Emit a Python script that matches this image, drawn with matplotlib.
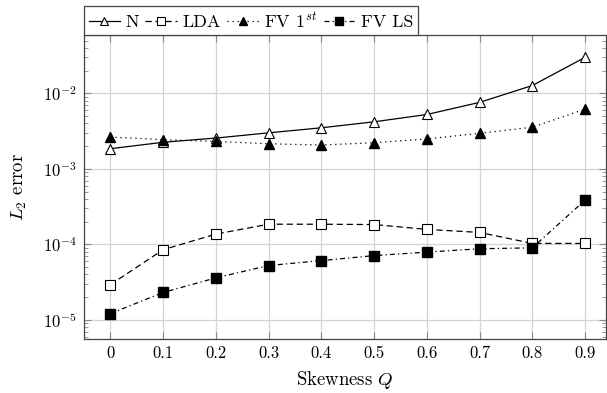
import matplotlib
matplotlib.use("Agg")
import matplotlib.pyplot as plt
from matplotlib.ticker import LogLocator, NullFormatter

plt.rcParams['font.family'] = 'serif'
plt.rcParams['font.serif'] = ['cmr10', 'DejaVu Serif']
plt.rcParams['mathtext.fontset'] = 'cm'
plt.rcParams['axes.formatter.use_mathtext'] = True
plt.rcParams['axes.unicode_minus'] = True

Q = [0, 0.1, 0.2, 0.3, 0.4, 0.5, 0.6, 0.7, 0.8, 0.9]
xtick_labels = ['0', '0.1', '0.2', '0.3', '0.4', '0.5', '0.6', '0.7', '0.8', '0.9']
err_N = [1.85e-3, 2.25e-3, 2.56e-3, 3.0e-3, 3.5e-3, 4.2e-3, 5.25e-3, 7.6e-3, 1.27e-2, 3.0e-2]
err_LDA = [2.93e-5, 8.5e-5, 1.37e-4, 1.85e-4, 1.85e-4, 1.83e-4, 1.58e-4, 1.44e-4, 1.03e-4, 1.03e-4]
err_FV1 = [2.64e-3, 2.44e-3, 2.31e-3, 2.15e-3, 2.07e-3, 2.22e-3, 2.49e-3, 2.96e-3, 3.56e-3, 6.18e-3]
err_FVLS = [1.21e-5, 2.31e-5, 3.6e-5, 5.25e-5, 6.1e-5, 7.1e-5, 7.9e-5, 8.75e-5, 9.0e-5, 3.86e-4]

fig = plt.figure(figsize=(6.07, 3.93), dpi=100)
ax = fig.add_axes([84/607, 1 - 339/393, (606 - 84)/607, (339 - 35)/393])

lw = 0.9
ms = 6.5
ax.plot(Q, err_N, '-', color='black', lw=lw, marker='^', ms=ms, mfc='white', mec='black', mew=0.8, label='N')
ax.plot(Q, err_LDA, color='black', lw=lw, ls=(0, (5, 3)), marker='s', ms=ms, mfc='white', mec='black', mew=0.8, label='LDA')
ax.plot(Q, err_FV1, color='black', lw=lw, ls=(0, (1, 3)), marker='^', ms=ms, mfc='black', mec='black', label=r'FV $1^{st}$')
ax.plot(Q, err_FVLS, color='black', lw=lw, ls=(0, (4, 2.5, 1, 2.5)), marker='s', ms=ms, mfc='black', mec='black', label='FV LS')

ax.set_yscale('log')
ax.set_ylim(10**-5.253, 10**-1.227)
ax.set_xlim(-0.05, 0.9397)
ax.set_xticks(Q)
ax.set_xticklabels(xtick_labels)
ax.yaxis.set_major_locator(LogLocator(base=10, numticks=10))
ax.yaxis.set_minor_locator(LogLocator(base=10, subs=range(2, 10), numticks=20))
ax.yaxis.set_minor_formatter(NullFormatter())

ax.grid(True, which='major', color='#d3d3d3', lw=0.9)
ax.set_axisbelow(True)
ax.tick_params(axis='both', which='both', direction='in', top=True, right=True,
               color='#888888', labelsize=12)
ax.tick_params(axis='both', which='major', length=5, width=0.8)
ax.tick_params(axis='y', which='minor', length=3, width=0.6)
ax.tick_params(axis='x', which='major', pad=4.5)
ax.tick_params(axis='y', which='major', pad=5)
for s in ax.spines.values():
    s.set_color('#444444')
    s.set_linewidth(0.9)

ax.set_xlabel(r'Skewness $Q$', fontsize=13.5, labelpad=6)
ax.set_ylabel(r'$L_2$ error', fontsize=13.5, labelpad=10)

leg = ax.legend(loc='lower left', bbox_to_anchor=(0.0, 1.0), ncol=4, fontsize=13,
                frameon=True, fancybox=False, edgecolor='#444444', framealpha=1,
                handlelength=1.75, handletextpad=0.3, columnspacing=0.35,
                borderpad=0.25, borderaxespad=0.0, markerscale=0.85)
leg.get_frame().set_linewidth(0.9)

fig.savefig('out.png', dpi=100)
